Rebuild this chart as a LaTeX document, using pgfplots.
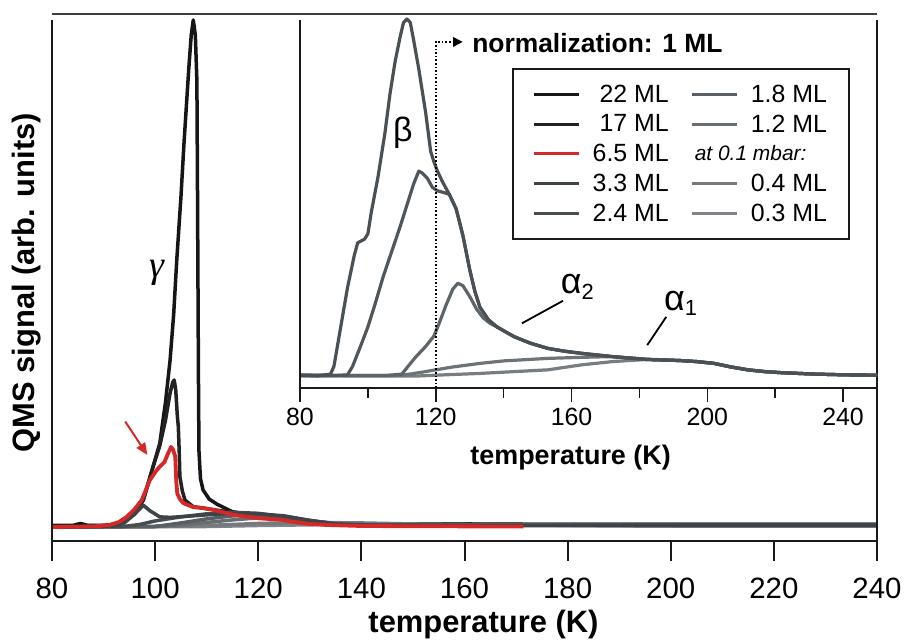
\documentclass[border=0pt]{standalone}
\usepackage{fontspec}
\setmainfont{Liberation Sans}
\newfontfamily\serifgreek{Liberation Serif}
\usepackage{pgfplots}
\pgfplotsset{compat=1.18}
\usetikzlibrary{arrows.meta}

\definecolor{c22}{RGB}{22,22,22}
\definecolor{c17}{RGB}{34,34,34}
\definecolor{cred}{RGB}{214,40,38}
\definecolor{c33}{RGB}{62,67,71}
\definecolor{c24}{RGB}{72,77,81}
\definecolor{c18}{RGB}{90,95,99}
\definecolor{c12}{RGB}{104,109,113}
\definecolor{c04}{RGB}{118,122,126}
\definecolor{c03}{RGB}{128,132,136}
\definecolor{iA}{RGB}{74,80,84}
\definecolor{iB}{RGB}{80,86,90}
\definecolor{iC}{RGB}{94,100,104}
\definecolor{iD}{RGB}{110,115,119}
\definecolor{iE}{RGB}{120,125,129}
\definecolor{axc}{RGB}{26,26,26}

\begin{document}
\begin{tikzpicture}
\useasboundingbox (-52bp,-102bp) rectangle (858bp,541bp);
% ---------------- main axis ----------------
\begin{axis}[
  name=main, at={(0,0)}, anchor=south west,
  scale only axis, width=825bp, height=527bp,
  xmin=80, xmax=240, ymin=-2.76, ymax=101.18,
  axis x line*=bottom, axis y line*=left,
  x axis line style={line width=2bp, color=axc, -},
  y axis line style={draw=none},
  xtick={80,100,...,240}, ytick=\empty,
  tick align=outside, major tick length=20bp,
  xtick style={line width=2bp, color=axc},
  /pgf/number format/assume math mode=true,
  xticklabel style={font=\fontsize{29.5}{31}\selectfont, anchor=north, inner sep=0pt, yshift=-17bp},
  xlabel={temperature (K)},
  xlabel style={at={(axis description cs:0.523,-0.1594)}, anchor=center, font=\fontsize{31}{34}\selectfont\bfseries},
  ylabel={QMS signal (arb. units)},
  ylabel style={at={(axis description cs:-0.0303,0.49)}, anchor=center, font=\fontsize{31}{34}\selectfont\bfseries},
  clip=false,
  every axis plot/.append style={line width=3.5bp, line join=round},
]
\addplot[c22, mark=none] coordinates {(80,0.3)(84,0.3)(85.5,0.7)(87,0.3)(90,0.3)(92,0.5)(94,1.0)(96,2.6)(97.7,5.3)(99.6,11.9)(100.9,16.5)(102,24.5)(102.9,32.9)(103.6,42)(104.2,52.7)(105,65)(105.6,75.7)(106.5,90)(107,97)(107.4,100)(107.8,97)(108.1,88)(108.2,70)(108.3,50)(108.4,30)(108.5,15)(108.8,9.5)(109.3,7.3)(110.5,5.5)(112,4.5)(115,3.0)(120,2.3)(125,1.8)(130,1.2)(134,0.8)(140,0.6)(160,0.6)(180,0.5)(200,0.5)(220,0.5)(240,0.5)};
\addplot[c17, mark=none] coordinates {(80,0.2)(90,0.3)(92,0.5)(94,1.0)(96,2.6)(97.7,5.3)(99.6,11.9)(100.9,16)(102,21)(102.9,26.4)(103.4,28.5)(103.7,29)(104,27)(104.3,22)(104.5,19.8)(104.7,14)(104.8,9.9)(105.3,7)(105.8,5.3)(107.4,4.0)(110,3.6)(115,2.9)(120,2.2)(125,1.7)(130,1.0)(135,0.6)(150,0.5)(240,0.5)};
\addplot[c03, mark=none] coordinates {(80,0)(110,0.1)(120,0.3)(135,0.5)(150,0.5)(170,0.4)(190,0.3)(210,0.2)(240,0.2)};
\addplot[c04, mark=none] coordinates {(80,0)(100,0.1)(110,0.3)(120,0.7)(130,0.9)(140,0.8)(150,0.6)(170,0.4)(200,0.2)(240,0.2)};
\addplot[c12, mark=none] coordinates {(80,0)(100,0.1)(105,0.4)(110,0.9)(115,1.4)(120,1.8)(125,1.8)(130,1.2)(137,0.5)(150,0.3)(240,0.3)};
\addplot[c18, mark=none] coordinates {(80,0)(100,0.1)(105,0.8)(110,1.6)(115,2.2)(120,2.4)(125,2.1)(130,1.3)(135,0.6)(145,0.3)(240,0.3)};
\addplot[c24, mark=none] coordinates {(80,0)(94,0.1)(97,0.5)(100,1.2)(105,2.0)(110,2.6)(115,2.9)(120,2.7)(125,2.0)(130,1.2)(135,0.5)(145,0.3)(240,0.3)};
\addplot[c33, mark=none] coordinates {(80,0)(92,0.2)(94,0.8)(96,2.5)(97.7,4.3)(99,3.2)(100.9,2.0)(103,1.9)(106,2.1)(110,2.4)(115,2.7)(120,2.6)(125,2.2)(130,1.3)(135,0.6)(140,0.4)(160,0.3)(240,0.3)};
\addplot[cred, mark=none, line width=3.8bp] coordinates {(80,0)(88,0.1)(91.2,0.4)(93,1.0)(94.5,2.0)(96,3.5)(97.4,5.3)(99,9.3)(100.3,11.2)(100.9,11.9)(101.8,12.8)(102.5,14.5)(103.1,15.8)(103.5,15.2)(103.9,13.9)(104.1,9)(104.3,6.6)(104.8,5.5)(105.5,4.7)(107.4,3.9)(109,3.8)(111.3,3.4)(115.2,2.4)(120.3,1.7)(124.8,1.4)(126.8,1.0)(130,0.6)(133.3,0.4)(140,0.2)(150,0.15)(171.4,0.1)};
% frame
\draw[line width=2bp, axc] (rel axis cs:0,0) -- (rel axis cs:0,0.9886);
\draw[line width=2bp, axc] (rel axis cs:1,0) -- (rel axis cs:1,0.9886);
\draw[line width=2bp, axc!85] (rel axis cs:0,1) -- (rel axis cs:1,1);
% annotations
\node[font=\fontsize{38}{40}\selectfont\serifgreek\itshape, inner sep=0pt] at (axis cs:100.3,50.1) {γ};
\draw[cred, line width=2bp, -{Triangle[length=12bp,width=10bp]}] (axis cs:94.2,20.8) -- (axis cs:98.5,14.2);
\end{axis}
% ---------------- inset axis ----------------
\begin{axis}[
  at={(248bp,153bp)}, anchor=south west,
  scale only axis, width=577bp, height=374bp,
  xmin=80, xmax=250, ymin=-3.07, ymax=101.4,
  axis x line*=bottom, axis y line=none,
  x axis line style={line width=2bp, color=axc, -},
  xtick={80,120,...,240}, minor xtick={100,140,180,220}, ytick=\empty,
  tick align=outside, major tick length=14bp, minor tick length=10bp,
  xtick style={line width=1.6bp, color=axc},
  minor x tick style={line width=1.6bp, color=axc},
  /pgf/number format/assume math mode=true,
  xticklabel style={font=\fontsize{25}{27}\selectfont, anchor=north, inner sep=0pt, yshift=-6bp},
  xlabel={temperature (K)},
  xlabel style={at={(axis description cs:0.469,-0.187)}, anchor=center, font=\fontsize{27}{30}\selectfont\bfseries},
  clip=false,
  every axis plot/.append style={line width=3.2bp, line join=round},
  legend columns=2,
  legend image code/.code={\draw[#1] (0bp,0bp) -- (45bp,0bp);},
  legend style={at={(0.3669,0.8548)}, anchor=north west, draw=axc, line width=2bp,
    inner xsep=20bp, inner ysep=13.5bp,
    font=\fontsize{25}{30}\selectfont, legend cell align=left,
    column sep=0bp, row sep=7bp,
    /tikz/every odd column/.append style={column sep=10bp},
    /tikz/every even column/.append style={column sep=20bp}},
]
\addplot[iE, mark=none, forget plot] coordinates {(80,0.3)(115,0.3)(120,0.5)(125,0.7)(133,1.0)(143,1.5)(153,2.0)(163,3.4)(172,4.3)(182,4.9)(192,4.6)(197,4.3)(202,3.8)(207,2.8)(212,2.0)(217,1.5)(222,1.2)(232,0.8)(241,0.6)(250,0.5)};
\addplot[iD, mark=none, forget plot] coordinates {(80,0.5)(105,0.4)(110,0.5)(115,1.2)(120,2)(125,2.8)(133,3.8)(140,4.5)(153,5.2)(163,5.5)(172,5.7)(182,5.0)(192,4.6)(197,4.3)(202,3.8)(207,2.8)(212,2.0)(217,1.5)(222,1.2)(232,0.8)(241,0.6)(250,0.5)};
\addplot[iC, mark=none, forget plot] coordinates {(80,0.5)(105,0.4)(110,0.8)(111,2)(114,5.5)(117,8.5)(119.5,11.5)(121,15)(123,20)(125,24.5)(126.5,26.2)(128,25.5)(130,22.5)(132,19)(134,16.5)(136,15)(138,14)(143,11.3)(148,9.4)(153,8)(158,7.2)(163,6.6)(172,5.7)(182,4.9)(192,4.6)(197,4.3)(202,3.8)(207,2.8)(212,2.0)(217,1.5)(222,1.2)(232,0.8)(241,0.6)(250,0.5)};
\addplot[iB, mark=none, forget plot] coordinates {(80,0.5)(90,0.4)(94,0.6)(95.5,3)(98,9)(100,14)(102,20)(104.5,28)(107,35)(109.5,42)(111.5,48)(113.5,54)(115,57.5)(116,57)(117.5,55.5)(119,53)(120.5,52)(122.5,51.5)(124,51)(126,47)(128,39.5)(130,30)(131.5,24)(133,19.5)(135.5,16)(138,14)(143,11.3)(148,9.4)(153,8)(158,7.2)(163,6.6)(172,5.7)(182,4.9)(192,4.6)(197,4.3)(202,3.8)(207,2.8)(212,2.0)(217,1.5)(222,1.2)(232,0.8)(241,0.6)(250,0.5)};
\addplot[iA, mark=none, forget plot] coordinates {(80,0.5)(85,0.3)(89,0.8)(90,3)(92,14)(94,25)(96,34)(97,37.5)(99,38.5)(100,40)(101,46)(103,56)(105,68)(106.5,79)(108,88)(109.5,95)(110.5,99)(111.5,100)(112.5,99)(113.5,94)(115,86)(117,74)(118.5,63)(119.5,60)(120.5,57.5)(122,54.5)(124,51)(126,47)(128,39.5)(130,30)(131.5,24)(133,19.5)(135.5,16)(138,14)(143,11.3)(148,9.4)(153,8)(158,7.2)(163,6.6)(172,5.7)(182,4.9)(192,4.6)(197,4.3)(202,3.8)(207,2.8)(212,2.0)(217,1.5)(222,1.2)(232,0.8)(241,0.6)(250,0.5)};
% legend entries (row-wise)
\addlegendimage{c22, line width=3bp}\addlegendentry{\phantom{.}22 ML}
\addlegendimage{c18, line width=3bp}\addlegendentry{1.8 ML}
\addlegendimage{c17, line width=3bp}\addlegendentry{\phantom{.}17 ML}
\addlegendimage{c12, line width=3bp}\addlegendentry{1.2 ML}
\addlegendimage{cred, line width=3bp}\addlegendentry{6.5 ML}
\addlegendimage{empty legend}\addlegendentry{\hspace*{-56bp}{\fontsize{21}{25}\selectfont\itshape at 0.1 mbar:}}
\addlegendimage{c33, line width=3bp}\addlegendentry{3.3 ML}
\addlegendimage{c04, line width=3bp}\addlegendentry{0.4 ML}
\addlegendimage{c24, line width=3bp}\addlegendentry{2.4 ML}
\addlegendimage{c03, line width=3bp}\addlegendentry{0.3 ML}
% frame
\draw[line width=2bp, axc] (rel axis cs:0,0) -- (rel axis cs:0,0.984);
% annotations
\draw[line width=1.6bp, dotted] (axis cs:120,-3.07) -- (axis cs:120,93.6) -- (axis cs:125.1,93.6);
\fill (axis cs:125.1,95.0) -- (axis cs:127.9,93.6) -- (axis cs:125.1,92.2) -- cycle;
\node[anchor=west, font=\fontsize{26.5}{30}\selectfont\bfseries, inner sep=0pt] at (axis cs:130.7,93.3) {normalization: 1 ML};
\node[font=\fontsize{34}{36}\selectfont] at (axis cs:110.3,68.2) {β};
\node[font=\fontsize{36}{38}\selectfont] at (axis cs:161.7,25.1) {α\raisebox{-0.3ex}{\fontsize{22}{24}\selectfont 2}};
\node[font=\fontsize{36}{38}\selectfont] at (axis cs:192.1,20.6) {α\raisebox{-0.3ex}{\fontsize{22}{24}\selectfont 1}};
\draw[line width=1.8bp] (axis cs:145.4,15.0) -- (axis cs:157.5,21.3);
\draw[line width=1.8bp] (axis cs:182.3,8.9) -- (axis cs:187.9,16.8);
\end{axis}
\end{tikzpicture}
\end{document}
